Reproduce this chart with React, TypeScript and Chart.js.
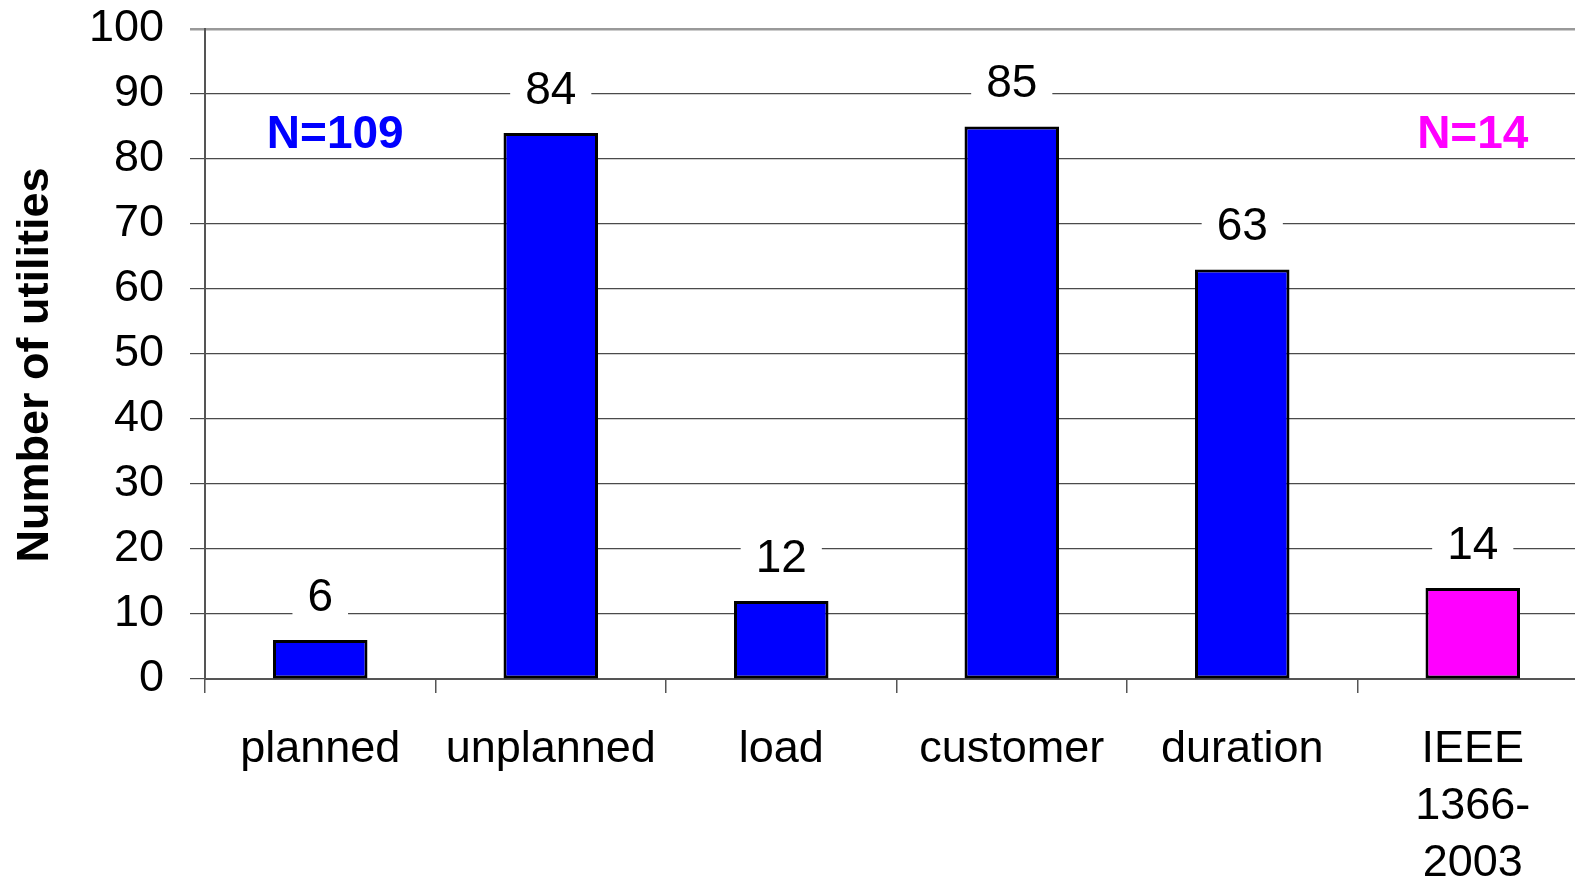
import React, { useEffect, useRef } from "react";
import { Chart, registerables } from "chart.js";

Chart.register(...registerables);

const categories: (string | string[])[] = ["planned", "unplanned", "load", "customer", "duration", ["IEEE", "1366-", "2003"]];
const values: number[] = [6, 84, 12, 85, 63, 14];
const barColors: string[] = ["#0000FF", "#0000FF", "#0000FF", "#0000FF", "#0000FF", "#FF00FF"];
const yTitle = "Number of utilities";
const notes = [
  { text: "N=109", color: "#0000FF", category: 0.065 },
  { text: "N=14", color: "#FF00FF", category: 5 },
];
const FONT = "'Liberation Sans', Arial, sans-serif";

export default function App() {
  const ref = useRef<HTMLCanvasElement | null>(null);
  useEffect(() => {
    if (!ref.current) return;
    const labelPlugin = {
      id: "valueLabels",
      afterDatasetsDraw(chart: any) {
        const ctx = chart.ctx;
        const meta = chart.getDatasetMeta(0);
        ctx.save();
        ctx.font = `46px ${FONT}`;
        ctx.textAlign = "center";
        ctx.textBaseline = "middle";
        meta.data.forEach((bar: any, i: number) => {
          const txt = String(values[i]);
          const w = ctx.measureText(txt).width + 30;
          const cy = bar.y - 44;
          ctx.fillStyle = "#ffffff";
          ctx.fillRect(bar.x - w / 2, cy - 30, w, bar.y - 1.5 - (cy - 30));
          ctx.fillStyle = "#000000";
          ctx.fillText(txt, bar.x, cy + 2);
        });
        const xs = chart.scales.x;
        const ys = chart.scales.y;
        ctx.font = `bold 46px ${FONT}`;
        notes.forEach((n) => {
          ctx.fillStyle = n.color;
          ctx.fillText(n.text, xs.getPixelForValue(n.category), ys.getPixelForValue(84) + 2);
        });
        ctx.save();
        ctx.translate(36, 365);
        ctx.rotate(-Math.PI / 2);
        ctx.font = `bold 45px ${FONT}`;
        ctx.fillStyle = "#000000";
        ctx.fillText(yTitle, 0, 0);
        ctx.restore();
        ctx.restore();
      },
    };
    const chart = new Chart(ref.current, {
      type: "bar",
      data: {
        labels: categories,
        datasets: [
          {
            data: values,
            backgroundColor: barColors,
            borderColor: "#000000",
            borderWidth: 3,
            borderSkipped: false,
            categoryPercentage: 1,
            barPercentage: 0.41,
          },
        ],
      },
      options: {
        responsive: false,
        animation: false,
        devicePixelRatio: 1,
        layout: { padding: { top: 29, left: 0, right: 0, bottom: 0 } },
        plugins: { legend: { display: false }, tooltip: { enabled: false } },
        scales: {
          x: {
            afterFit: (s: any) => {
              s.height = 201;
              s.paddingLeft = 0;
              s.paddingRight = 0;
            },
            grid: {
              offset: true,
              drawOnChartArea: false,
              drawTicks: true,
              tickLength: 14,
              color: "#555555",
              lineWidth: 1.5,
            },
            border: { display: true, color: "#555555", width: 2 },
            ticks: {
              color: "#000000",
              font: { family: FONT, size: 45, lineHeight: 1.27 },
              padding: 28,
              maxRotation: 0,
              autoSkip: false,
            },
          },
          y: {
            min: 0,
            max: 100,
            afterFit: (s: any) => {
              s.width = 205;
              s.paddingTop = 0;
              s.paddingBottom = 0;
            },
            grid: {
              color: (c: any) => (c.tick && c.tick.value === 100 ? "#999999" : "#4a4a4a"),
              lineWidth: (c: any) => (c.tick && c.tick.value === 100 ? 2.5 : 1.2),
              tickLength: 15,
            },
            border: { display: true, color: "#555555", width: 2 },
            ticks: {
              stepSize: 10,
              color: "#000000",
              font: { family: FONT, size: 45 },
              padding: 26,
            },
          },
        },
      },
      plugins: [labelPlugin],
    });
    return () => chart.destroy();
  }, []);
  return (
    <div style={{ position: "absolute", left: 0, top: 0, width: 1575, height: 880, overflow: "hidden", background: "#fff" }}>
      <canvas ref={ref} width={1588} height={880} style={{ display: "block" }} />
    </div>
  );
}
